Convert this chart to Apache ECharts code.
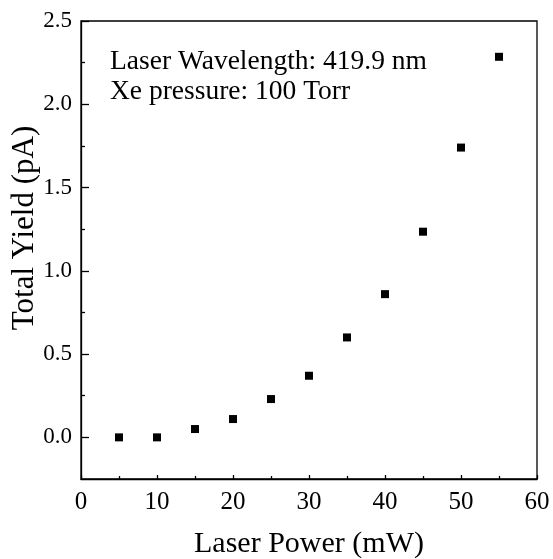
<!DOCTYPE html>
<html><head><meta charset="utf-8">
<script src="https://cdn.jsdelivr.net/npm/echarts@6/dist/echarts.min.js"></script>
<style>html,body{margin:0;padding:0;background:#fff}#c{width:553px;height:559px}</style>
</head><body><div id="c"></div>
<script>
const power = [5, 10, 15, 20, 25, 30, 35, 40, 45, 50, 55];
const yieldPA = [0.0, 0.0, 0.05, 0.11, 0.23, 0.37, 0.60, 0.86, 1.235, 1.74, 2.285];
const yMajor = [0, 0.5, 1.0, 1.5, 2.0, 2.5];
const yMinor = [0.25, 0.75, 1.25, 1.75, 2.25];
const notes = ['Laser Wavelength: 419.9 nm', 'Xe pressure: 100 Torr'];
const xName = 'Laser Power (mW)';
const yName = 'Total Yield (pA)';

const font = '"Liberation Serif", "DejaVu Serif", serif';
const lc = '#000';
const chart = echarts.init(document.getElementById('c'));
chart.setOption({
  animation: false,
  backgroundColor: '#fff',
  grid: { left: 81, right: 16, top: 21, bottom: 80, containLabel: false, outerBoundsMode: 'none',
    show: true, borderColor: lc, borderWidth: 1.3, backgroundColor: 'transparent' },
  xAxis: {
    type: 'value', min: 0, max: 60, interval: 10,
    name: xName, nameLocation: 'middle', nameGap: 50,
    nameTextStyle: { fontFamily: font, fontSize: 30, color: '#000' },
    axisLine: { show: true, onZero: false, lineStyle: { color: lc, width: 1.3 } },
    axisTick: { show: true, inside: true, length: 4, lineStyle: { color: lc, width: 1.3 } },
    minorTick: { show: true, splitNumber: 2, length: 3, lineStyle: { color: lc, width: 1.3 } },
    axisLabel: { fontFamily: font, fontSize: 25, color: '#000', margin: 11 },
    splitLine: { show: false }, minorSplitLine: { show: false }
  },
  yAxis: [{
    type: 'value', min: -0.25, max: 2.5, interval: 0.25,
    axisLine: { show: true, onZero: false, lineStyle: { color: lc, width: 1.3 } },
    axisTick: { show: true, inside: true, length: 8, customValues: yMajor, lineStyle: { color: lc, width: 1.3 } },
    axisLabel: { fontFamily: font, fontSize: 23, color: '#000', margin: 9, customValues: yMajor,
      formatter: v => v.toFixed(1) },
    splitLine: { show: false }
  }, {
    type: 'value', min: -0.25, max: 2.5, interval: 0.25, position: 'left',
    axisLine: { show: false },
    axisTick: { show: true, inside: true, length: 4, customValues: yMinor, lineStyle: { color: lc, width: 1.3 } },
    axisLabel: { show: false },
    splitLine: { show: false }
  }],
  graphic: [
    ...notes.map((t, i) => ({
      type: 'text', x: 110, y: 62 + i * 30,
      style: { text: t, fontFamily: font, fontSize: 27.5, fill: '#000', textVerticalAlign: 'middle', verticalAlign: 'middle' }
    })),
    {
      type: 'text', x: 25, y: 228, rotation: Math.PI / 2,
      style: { text: yName, fontFamily: font, fontSize: 31, fill: '#000', textAlign: 'center', align: 'center', textVerticalAlign: 'middle', verticalAlign: 'middle' }
    }
  ],
  series: [{
    type: 'scatter', symbol: 'rect', symbolSize: 8,
    itemStyle: { color: '#000', opacity: 1 },
    data: power.map((p, i) => [p, yieldPA[i]])
  }]
});
</script></body></html>
